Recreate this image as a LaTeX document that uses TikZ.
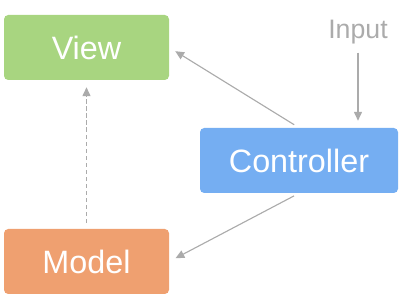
\documentclass[tikz,border=0pt]{standalone}
\usepackage{fontspec}
\setmainfont{Liberation Sans}
\usetikzlibrary{arrows.meta,positioning}
\definecolor{viewgreen}{HTML}{A8D580}
\definecolor{modelorange}{HTML}{EFA070}
\definecolor{ctrlblue}{HTML}{75AEF2}
\definecolor{linegray}{HTML}{ABABAB}
\begin{document}
\begin{tikzpicture}[
      box/.style={rounded corners=3pt, minimum width=4.125cm, minimum height=1.625cm,
                  align=center, font=\fontsize{23}{27}\selectfont, text=white, inner sep=0pt},
      arr/.style={-{Triangle[length=2.2mm,width=2mm]}, line width=0.8pt, draw=linegray,
                  shorten <=4pt, shorten >=5pt},
      darr/.style={arr, dash pattern=on 3pt off 2pt}
    ]
    \useasboundingbox (0,0) rectangle (10.3,7.65);
    \node[box, fill=viewgreen]   (view)  at (2.1625,6.4625) {View};
    \node[box, fill=modelorange] (model) at (2.1625,1.1125) {Model};
    \node[box, fill=ctrlblue, minimum width=4.95cm] (ctrl) at (7.475,3.6375) {Controller};
    \node[font=\fontsize{19}{22}\selectfont, text=linegray, inner sep=2pt] (input) at (8.95,6.85) {Input};

    \draw[arr] (input.south) -- (ctrl.north -| input.south);
    \draw[arr] (ctrl.north) -- (view.east);
    \draw[arr] (ctrl.south) -- (model.east);
    \draw[darr] (model.north) -- (view.south);
  \end{tikzpicture}
\end{document}
